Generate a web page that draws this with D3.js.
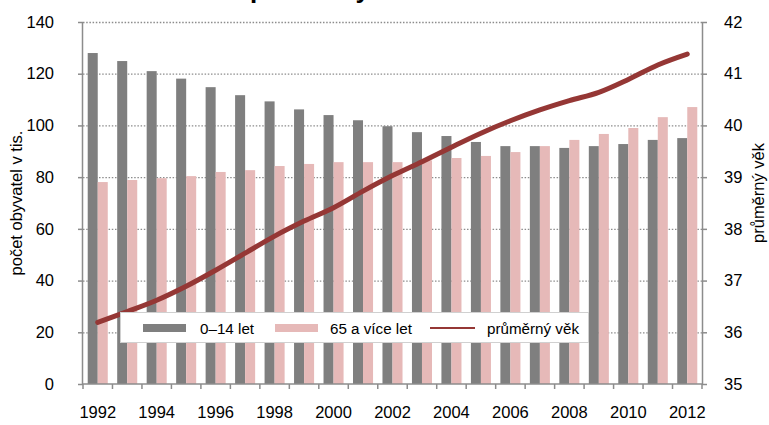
<!DOCTYPE html>
<html>
<head>
<meta charset="utf-8">
<script src="https://cdn.jsdelivr.net/npm/d3@7"></script>
<style>
  body { margin: 0; background: #fff; }
  svg { display: block; font-family: "Liberation Sans", Arial, sans-serif; }
</style>
</head>
<body>
<svg id="chart" width="769" height="425"></svg>
<script>
// data
const years = d3.range(1992, 2013);
const children = [128.0, 124.9, 121.0, 118.1, 114.8, 111.7, 109.3, 106.2, 104.0, 102.0,
                  99.7, 97.4, 95.9, 93.6, 92.0, 92.0, 91.3, 92.0, 92.8, 94.4, 95.1];
const seniors = [78.1, 78.9, 79.6, 80.4, 82.0, 82.7, 84.3, 85.1, 85.8, 85.8,
                 85.8, 86.5, 87.4, 88.2, 89.7, 92.0, 94.4, 96.7, 99.0, 103.2, 107.1];
const avgAge = [36.19, 36.40, 36.62, 36.89, 37.20, 37.53, 37.86, 38.15, 38.41, 38.73,
                39.03, 39.30, 39.58, 39.85, 40.09, 40.30, 40.48, 40.64, 40.89, 41.17, 41.38];
const leftTicks = [0, 20, 40, 60, 80, 100, 120, 140];
const rightTicks = [35, 36, 37, 38, 39, 40, 41, 42];
const xLabels = d3.range(1992, 2013, 2);

const colChild = "#7f7f7f", colSenior = "#e6b9b8", colLine = "#953735";

const svg = d3.select("#chart");
const margin = {top: 22, right: 67, bottom: 41, left: 83};
const W = 769, H = 425;
const iw = W - margin.left - margin.right, ih = H - margin.top - margin.bottom;

const x = d3.scaleBand().domain(years).range([margin.left, margin.left + iw])
  .paddingInner(0.32).paddingOuter(0.16);
const xs = d3.scaleBand().domain(["c", "s"]).range([0, x.bandwidth()]);
const y = d3.scaleLinear().domain([0, 140]).range([margin.top + ih, margin.top]);
const y2 = d3.scaleLinear().domain([35, 42]).range([margin.top + ih, margin.top]);

// title (sits above the visible area, only descenders show)
const title = svg.append("text")
  .attr("y", -2)
  .attr("font-weight", "bold")
  .attr("font-size", 26)
  .text("Věková struktura a průměrný věk");
const pIdx = title.text().indexOf("p");
const px = title.node().getStartPositionOfChar(pIdx).x;
title.attr("x", 250 - px);

// gridlines
svg.append("g").selectAll("line").data(leftTicks.slice(1)).join("line")
  .attr("x1", margin.left).attr("x2", margin.left + iw)
  .attr("y1", d => y(d) + 0.5).attr("y2", d => y(d) + 0.5)
  .attr("stroke", "#8c8c8c").attr("stroke-width", 1.3)
  .attr("stroke-dasharray", "1.5,1.7");

// bars
const groups = svg.append("g").selectAll("g").data(years).join("g")
  .attr("transform", d => `translate(${x(d)},0)`);
groups.append("rect")
  .attr("x", xs("c")).attr("width", xs.bandwidth())
  .attr("y", (d, i) => y(children[i])).attr("height", (d, i) => y(0) - y(children[i]))
  .attr("fill", colChild);
groups.append("rect")
  .attr("x", xs("s")).attr("width", xs.bandwidth())
  .attr("y", (d, i) => y(seniors[i])).attr("height", (d, i) => y(0) - y(seniors[i]))
  .attr("fill", colSenior);

// average age line
const line = d3.line()
  .x((d, i) => x(years[i]) + x.bandwidth() / 2)
  .y(d => y2(d))
  .curve(d3.curveMonotoneX);
svg.append("path").datum(avgAge)
  .attr("d", line)
  .attr("fill", "none").attr("stroke", colLine)
  .attr("stroke-width", 5).attr("stroke-linecap", "round").attr("stroke-linejoin", "round");

// axes
const axisCol = "#8c8c8c";
const fs = 16.5;
const gl = svg.append("g").attr("transform", `translate(${margin.left},0)`)
  .call(d3.axisLeft(y).tickValues(leftTicks).tickSize(5).tickPadding(24));
const gr = svg.append("g").attr("transform", `translate(${margin.left + iw},0)`)
  .call(d3.axisRight(y2).tickValues(rightTicks).tickFormat(d3.format("d")).tickSize(5).tickPadding(17));
const gx = svg.append("g").attr("transform", `translate(0,${margin.top + ih})`)
  .call(d3.axisBottom(x).tickValues(xLabels).tickSize(0).tickPadding(22));
gx.select(".domain").remove();
// category boundary ticks
const bounds = years.map(d => x(d) - x.step() * x.paddingInner() / 2)
  .concat([margin.left + iw]);
bounds[0] = margin.left;
svg.append("g").selectAll("line").data(bounds).join("line")
  .attr("x1", d => d).attr("x2", d => d)
  .attr("y1", margin.top + ih).attr("y2", margin.top + ih + 5)
  .attr("stroke", axisCol).attr("stroke-width", 1.5);
svg.append("line")
  .attr("x1", margin.left).attr("x2", margin.left + iw)
  .attr("y1", margin.top + ih).attr("y2", margin.top + ih)
  .attr("stroke", axisCol).attr("stroke-width", 1.5);

[gl, gr, gx].forEach(g => {
  g.selectAll(".domain").attr("stroke", axisCol).attr("stroke-width", 1.5);
  g.selectAll(".tick line").attr("stroke", axisCol).attr("stroke-width", 1.5);
  g.selectAll("text").attr("font-size", fs).attr("fill", "#000")
    .attr("font-family", "Liberation Sans, Arial, sans-serif");
});
gl.selectAll(".domain").attr("d", `M-0.5,${margin.top}V${margin.top + ih}`);
gr.selectAll(".domain").attr("d", `M0.5,${margin.top}V${margin.top + ih}`);

// axis titles
svg.append("text")
  .attr("transform", `translate(22,${margin.top + ih / 2}) rotate(-90)`)
  .attr("text-anchor", "middle").attr("font-size", fs)
  .text("počet obyvatel v tis.");
svg.append("text")
  .attr("transform", `translate(764,${margin.top + ih / 2 - 10}) rotate(-90)`)
  .attr("text-anchor", "middle").attr("font-size", fs)
  .text("průměrný věk");

// legend
const legend = svg.append("g");
legend.append("rect")
  .attr("x", 120.5).attr("y", 312.5).attr("width", 468).attr("height", 30)
  .attr("fill", "#fff").attr("stroke", "#d0d0d0");
const items = [
  {label: "0–14 let", type: "bar", color: colChild, sx: 143, tx: 200},
  {label: "65 a více let", type: "bar", color: colSenior, sx: 275, tx: 330},
  {label: "průměrný věk", type: "line", color: colLine, sx: 430, tx: 487}
];
items.forEach(it => {
  if (it.type === "bar") {
    legend.append("rect").attr("x", it.sx).attr("y", 324).attr("width", 43).attr("height", 8)
      .attr("fill", it.color);
  } else {
    legend.append("line").attr("x1", it.sx).attr("x2", it.sx + 45)
      .attr("y1", 328).attr("y2", 328).attr("stroke", it.color).attr("stroke-width", 2);
  }
  legend.append("text").attr("x", it.tx).attr("y", 333.5)
    .attr("font-size", 15.2).text(it.label);
});
</script>
</body>
</html>
